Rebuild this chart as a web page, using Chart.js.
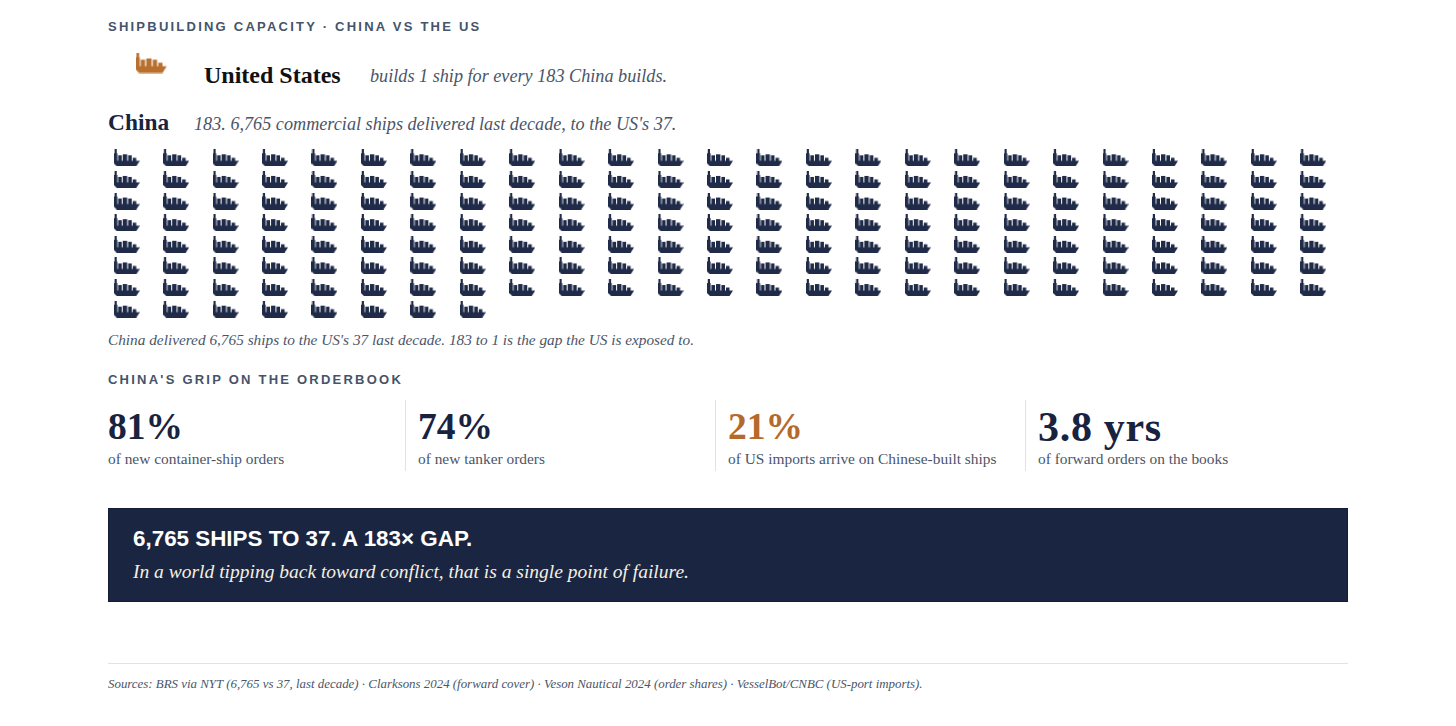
<!DOCTYPE html>
<html>
<head>
<meta charset="utf-8">
<title>Shipbuilding capacity</title>
<script src="https://cdn.jsdelivr.net/npm/chart.js@4"></script>
<style>
  html, body { margin: 0; background: #fff; overflow: hidden; }
  #page { position: relative; width: 1456px; height: 726px; }
  #page > * { position: absolute; white-space: nowrap; line-height: 1; }
  .serif { font-family: "Liberation Serif", serif; }
  .sans { font-family: "Liberation Sans", sans-serif; }
  .label { font-size: 13px; font-weight: bold; letter-spacing: 2.23px; color: #44546a; }
  .name { font-size: 24px; font-weight: bold; }
  .note { font-size: 18.2px; font-style: italic; color: #4b5568; }
  .kpi { font-size: 37.5px; font-weight: bold; color: #18233f; }
  .kpi.wide { font-size: 42px; letter-spacing: 0.7px; }
  .kpi-sub { font-size: 15.4px; color: #4b5568; }
  .rule { background: #dfe2e6; width: 1px; height: 71px; top: 400px; }
</style>
</head>
<body>
<div id="page">
  <div class="label sans" style="left:108px;top:20px">SHIPBUILDING CAPACITY · CHINA VS THE US</div>
  <canvas id="usChart" style="left:130px;top:47px"></canvas>
  <div class="name serif" style="left:204px;top:63px;color:#111">United States</div>
  <div class="note serif" style="left:370px;top:67px">builds 1 ship for every 183 China builds.</div>
  <div class="name serif" style="left:108px;top:111px;color:#18233f;font-size:23.4px">China</div>
  <div class="note serif" style="left:194px;top:115px">183. 6,765 commercial ships delivered last decade, to the US's 37.</div>
  <canvas id="chinaChart" style="left:102.3px;top:147.2px"></canvas>
  <div class="serif" style="left:108px;top:332px;font-size:15.3px;font-style:italic;color:#4b5568">China delivered 6,765 ships to the US's 37 last decade. 183 to 1 is the gap the US is exposed to.</div>
  <div class="label sans" style="left:108px;top:373px">CHINA'S GRIP ON THE ORDERBOOK</div>
  <div id="banner" style="left:108px;top:508px;width:1240px;height:94px;box-sizing:border-box;background:#1a2542;border:1px solid #141d36"></div>
  <div class="sans" style="left:133px;top:528px;font-size:22.4px;font-weight:bold;color:#fff">6,765 SHIPS TO 37. A 183× GAP.</div>
  <div class="serif" style="left:133px;top:562px;font-size:19.5px;font-style:italic;color:#f5efe0">In a world tipping back toward conflict, that is a single point of failure.</div>
  <div style="left:108px;top:663px;width:1240px;height:1px;background:#dfe2e6"></div>
  <div class="serif" style="left:108px;top:678px;font-size:12.9px;font-style:italic;color:#4b5568">Sources: BRS via NYT (6,765 vs 37, last decade) · Clarksons 2024 (forward cover) · Veson Nautical 2024 (order shares) · VesselBot/CNBC (US-port imports).</div>
</div>

<script>
// ships per row of the unit chart, 183 in total
const chinaRowCounts = [25, 25, 25, 25, 25, 25, 25, 8];
const usRowCounts = [1];

const kpiValues = ['81%', '74%', '21%', '3.8 yrs'];
const kpiLabels = ['of new container-ship orders', 'of new tanker orders', 'of US imports arrive on Chinese-built ships', 'of forward orders on the books'];
const kpiColors = ['#18233f', '#18233f', '#b5692a', '#18233f'];

const NAVY = '#1f2b48';
const COPPER = '#b8702f';

// one ship glyph on an offscreen canvas, used as the pointStyle
function makeShip(color, scale) {
  const c = document.createElement('canvas');
  c.width = Math.ceil(26 * scale);
  c.height = Math.ceil(17 * scale);
  const g = c.getContext('2d');
  g.scale(scale, scale);
  g.fillStyle = color;
  g.beginPath();
  g.moveTo(0, 11.5);
  g.lineTo(26, 11.5);
  g.lineTo(22.5, 17);
  g.lineTo(3, 17);
  g.lineTo(0, 14);
  g.closePath();
  g.fill();
  g.fillRect(0.8, 0, 2.2, 5);
  g.fillRect(0, 4, 3.6, 9);
  g.fillRect(4.4, 6, 3.6, 7);
  g.fillRect(9, 5, 4.4, 8);
  g.fillRect(14.4, 6, 3.6, 7);
  g.fillRect(19, 8.5, 3.5, 4);
  return c;
}

function rowsToPoints(rowCounts) {
  const pts = [];
  rowCounts.forEach((count, row) => {
    for (let col = 0; col < count; col++) pts.push({ x: col, y: row });
  });
  return pts;
}

function makeChart(id, rowCounts, ship, width, height, cols) {
  const canvas = document.getElementById(id);
  canvas.style.width = width + 'px';
  canvas.style.height = height + 'px';
  canvas.width = width;
  canvas.height = height;
  return new Chart(canvas, {
    type: 'scatter',
    data: {
      datasets: [{
        data: rowsToPoints(rowCounts),
        pointStyle: ship,
        pointRadius: 10,
        pointHoverRadius: 10,
        clip: false
      }]
    },
    options: {
      responsive: false,
      animation: false,
      layout: { padding: 0, autoPadding: false },
      events: [],
      plugins: { legend: { display: false }, tooltip: { enabled: false } },
      scales: {
        x: { display: false, min: -0.5, max: cols - 0.5 },
        y: { display: false, reverse: true, min: -0.5, max: rowCounts.length - 0.5 }
      }
    }
  });
}

makeChart('chinaChart', chinaRowCounts, makeShip(NAVY, 1), 1236, 173, 25);
makeChart('usChart', usRowCounts, makeShip(COPPER, 1.2), 43, 32, 1);

// orderbook stat columns
const page = document.getElementById('page');
const banner = document.getElementById('banner');
kpiValues.forEach((value, i) => {
  const left = 108 + i * 310;
  const num = document.createElement('div');
  num.className = 'kpi serif' + (i === 3 ? ' wide' : '');
  num.textContent = value;
  num.style.left = left + 'px';
  num.style.top = i === 3 ? '406px' : '408px';
  num.style.color = kpiColors[i];
  page.insertBefore(num, banner);
  const sub = document.createElement('div');
  sub.className = 'kpi-sub serif';
  sub.textContent = kpiLabels[i];
  sub.style.left = left + 'px';
  sub.style.top = '451px';
  page.insertBefore(sub, banner);
  if (i > 0) {
    const rule = document.createElement('div');
    rule.className = 'rule';
    rule.style.left = (left - 13) + 'px';
    page.insertBefore(rule, banner);
  }
});
</script>
</body>
</html>
